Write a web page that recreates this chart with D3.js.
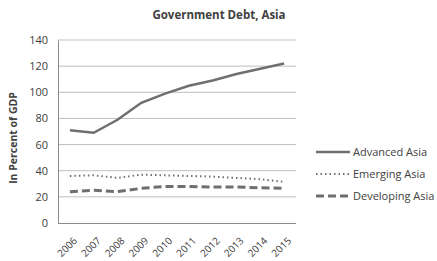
<!DOCTYPE html>
<html>
<head>
<meta charset="utf-8">
<script src="https://cdn.jsdelivr.net/npm/d3@7"></script>
<style>
  body { margin: 0; background: #fff; }
  text { font-family: "Open Sans", sans-serif; fill: #404040; }
</style>
</head>
<body>
<div id="chart"></div>
<script>
const years = ['2006', '2007', '2008', '2009', '2010', '2011', '2012', '2013', '2014', '2015']
const advanced = [71, 69, 79, 92, 99, 105, 109, 114, 118, 122]
const emerging = [36, 36.5, 34.5, 37, 36.5, 36, 35.5, 34.5, 33.5, 31.5]
const developing = [24, 25, 24, 26.5, 28, 28, 27.5, 27.5, 27, 26.5]
const yTicks = [0, 20, 40, 60, 80, 100, 120, 140]

const series = [
  { name: 'Advanced Asia', values: advanced, dash: null, width: 2.5 },
  { name: 'Emerging Asia', values: emerging, dash: '1.5,3', width: 2 },
  { name: 'Developing Asia', values: developing, dash: '8,4', width: 3 }
]

const W = 437
const H = 261
const m = { left: 58, right: 141, top: 40, bottom: 38 }

const svg = d3.select('#chart').append('svg').attr('width', W).attr('height', H)

const x = d3.scalePoint(years, [m.left, W - m.right]).padding(0.5)
const y = d3.scaleLinear([0, 140], [H - m.bottom, m.top])

// gridlines
svg.append('g')
  .selectAll('line')
  .data(yTicks.filter((d) => d > 0))
  .enter()
  .append('line')
  .attr('x1', m.left)
  .attr('x2', W - m.right)
  .attr('y1', (d) => y(d))
  .attr('y2', (d) => y(d))
  .attr('stroke', '#bfbfbf')
  .attr('stroke-width', 1)

const yAxis = svg.append('g')
  .attr('transform', `translate(${m.left},0)`)
  .call(d3.axisLeft(y).tickValues(yTicks).tickSize(0).tickPadding(10))
yAxis.select('.domain').attr('stroke', '#8c8c8c')
yAxis.selectAll('text').style('font-size', '11px').attr('fill', '#404040')

const xAxis = svg.append('g')
  .attr('transform', `translate(0,${H - m.bottom})`)
  .call(d3.axisBottom(x).tickSize(0).tickPadding(6))
xAxis.select('.domain').attr('stroke', '#8c8c8c')
  .attr('d', `M${m.left},0.5H${W - m.right}`)
xAxis.selectAll('text')
  .style('font-size', '10px')
  .attr('fill', '#404040')
  .attr('text-anchor', 'end')
  .attr('dy', '0.3em')
  .attr('transform', 'translate(1,12) rotate(-45)')

const line = d3.line()
  .x((d, i) => x(years[i]))
  .y((d) => y(d))

svg.append('g')
  .selectAll('path')
  .data(series)
  .enter()
  .append('path')
  .attr('d', (s) => line(s.values))
  .attr('fill', 'none')
  .attr('stroke', '#6f6f6f')
  .attr('stroke-width', (s) => s.width)
  .attr('stroke-dasharray', (s) => s.dash)

// legend
const legend = svg.append('g')
  .selectAll('g')
  .data(series)
  .enter()
  .append('g')
  .attr('transform', (s, i) => `translate(316,${152 + i * 22})`)
legend.append('line')
  .attr('x1', 0).attr('x2', 34)
  .attr('stroke', '#6f6f6f')
  .attr('stroke-width', (s) => s.width)
  .attr('stroke-dasharray', (s) => s.dash)
legend.append('text')
  .attr('x', 37)
  .attr('dy', '0.35em')
  .style('font-size', '11px')
  .text((s) => s.name)

svg.append('text')
  .attr('x', 219)
  .attr('y', 19)
  .attr('text-anchor', 'middle')
  .style('font-size', '11.5px')
  .style('font-weight', 'bold')
  .text('Government Debt, Asia')

svg.append('text')
  .attr('transform', 'translate(17,138) rotate(-90)')
  .attr('text-anchor', 'middle')
  .style('font-size', '10.5px')
  .style('font-weight', 'bold')
  .text('In Percent of GDP')
</script>
</body>
</html>
